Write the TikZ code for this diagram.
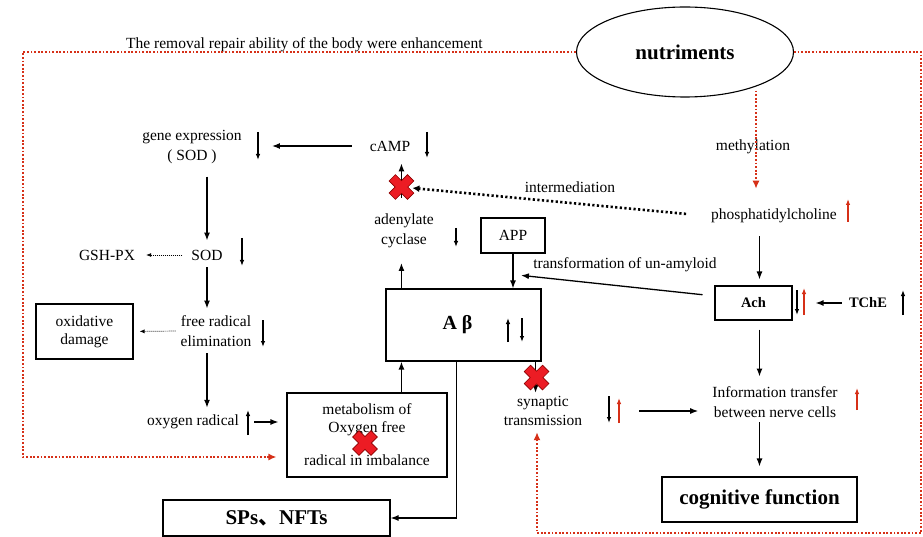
\documentclass[tikz,border=0pt]{standalone}
\usepackage{fontspec}
\setmainfont{Liberation Serif}
\newfontfamily\cjkfont{Noto Sans CJK SC}
\usetikzlibrary{arrows.meta,shapes.geometric,calc}
\definecolor{dotred}{RGB}{214,48,24}
\definecolor{xred}{RGB}{236,28,36}
\tikzset{
  xmark/.pic={
    \filldraw[fill=xred,draw=red!55!black,line width=0.6pt,rotate=45]
      (4.5,13) -- (4.5,4.5) -- (13,4.5) -- (13,-4.5) -- (4.5,-4.5) -- (4.5,-13)
      -- (-4.5,-13) -- (-4.5,-4.5) -- (-13,-4.5) -- (-13,4.5) -- (-4.5,4.5) -- (-4.5,13) -- cycle;
  }
}
\begin{document}
\begin{tikzpicture}[x=1pt,y=-1pt,
    txt/.style={font=\fontsize{15.5}{19.5}\selectfont,inner sep=3pt,align=center},
    box/.style={draw,line width=1.1pt,font=\fontsize{15.5}{18}\selectfont,inner sep=3pt,align=center},
    bigb/.style={font=\fontsize{21}{24}\selectfont\bfseries},
    smb/.style={font=\fontsize{14.5}{17}\selectfont\bfseries},
    arr/.style={-{Latex[length=8pt,width=6pt]},line width=1.3pt,shorten >=4pt,shorten <=4pt},
    ind/.style={-{Latex[length=6pt,width=4.5pt]},line width=1.2pt},
    redind/.style={draw=dotred,line width=1.1pt,-{Latex[length=6pt,width=4.5pt]}},
    reddot/.style={draw=dotred,line width=2.6pt,dash pattern=on 1.8pt off 1.8pt,-{Latex[length=8pt,width=7pt]}},
    interdot/.style={line width=2.6pt,dash pattern=on 2.2pt off 2.4pt,-{Latex[length=7pt,width=7pt]}},
    thindot/.style={line width=0.7pt,dash pattern=on 1pt off 1pt,-{Latex[length=5pt,width=4pt]}}]
  \useasboundingbox (0,0) rectangle (923,537);

  % nodes
  \node[txt,anchor=west] (title) at (123,45) {The removal repair ability of the body were enhancement};
  \node[draw,ellipse,line width=1.1pt,minimum width=217pt,minimum height=90pt,inner sep=0pt,bigb] (nut) at (685,52) {nutriments};
  \node[txt] (meth) at (753,147) {methylation};
  \node[txt] (pc) at (774,216) {phosphatidylcholine};
  \node[box,smb,minimum width=77pt,minimum height=34pt] (ach) at (753.5,303) {Ach};
  \node[smb] (tche) at (868,303) {TChE};
  \node[txt] (info) at (775,402) {Information transfer\\between nerve cells};
  \node[box,bigb,minimum width=195pt,minimum height=45pt] (cog) at (759.5,499.5) {cognitive function};
  \node[txt] (syn) at (543,411) {synaptic\\transmission};
  \node[box,minimum width=155pt,minimum height=72pt,font=\fontsize{20}{22}\selectfont\bfseries] (ab) at (463.5,325) {A β\hspace{12pt}};
  \node[box,minimum width=64pt,minimum height=35pt] (app) at (513,235.5) {APP};
  \node[txt] (ac) at (404,231) {adenylate\\cyclase};
  \node[txt] (camp) at (390,146) {cAMP};
  \node[txt] (inter) at (570,187) {intermediation};
  \node[txt] (trans) at (625,265) {transformation of un-amyloid};
  \node[txt] (gene) at (192,147) {gene expression\\( SOD )};
  \node[txt] (sod) at (207,255) {SOD};
  \node[txt] (gsh) at (107,255) {GSH-PX};
  \node[txt] (frad) at (216,331) {free radical\\elimination};
  \node[box,minimum width=97pt,minimum height=55pt] (oxd) at (84.5,331.5) {oxidative\\damage};
  \node[txt] (oxr) at (193,422) {oxygen radical};
  \node[box,minimum width=160pt,minimum height=84pt] (met) at (367,435) {metabolism of\\Oxygen free\\[15pt]radical in imbalance};
  \node[box,bigb,minimum width=227pt,minimum height=36pt] (sps) at (276.5,518) {SPs{\cjkfont 、}NFTs};

  \coordinate (abl) at ([xshift=16pt]ab.south west);
  \coordinate (abu) at ([xshift=16pt]ab.north west);
  \coordinate (abr) at ([xshift=-6pt]ab.south east);
  \coordinate (xc) at (abu |- inter);
  \coordinate (ta) at ($(app.south)!0.6!(app.south |- ab.north)$);
  \coordinate (mt) at ($(pc.north)+(-18,-17)$);
  \coordinate (lx) at (23,0);
  \coordinate (rb) at (921,533);

  % left column
  \draw[arr,shorten <=15pt,shorten >=27pt] (camp.west) -- (camp.west -| gene.east);
  \draw[arr,shorten <=10pt,shorten >=6pt] (gene.south -| sod) -- (sod.north);
  \draw[thindot,shorten <=6pt,shorten >=8pt] (sod.west) -- (gsh.east);
  \draw[arr] (sod.south) -- (sod.south |- frad.north);
  \draw[thindot,shorten <=2pt,shorten >=6pt] (frad.west) -- (oxd.east);
  \draw[arr] (frad.south -| sod) -- (oxr.north -| sod);
  \draw[arr,shorten <=12pt,shorten >=8pt] (oxr.east) -- (oxr.east -| met.west);

  % middle
  \draw[arr,shorten <=0pt,shorten >=0pt] (met.north -| abl) -- (abl);
  \draw[arr,shorten <=0pt,shorten >=12pt] (abu) -- (abu |- ac.south);
  \draw[arr,shorten <=13pt,shorten >=9pt] (ac.north -| abu) -- (camp.south -| abu);
  \draw[interdot,shorten <=22pt,shorten >=11pt] (pc.west) -- (xc);
  \draw[arr,shorten <=0pt,shorten >=0pt] (app.south) -- (app.south |- ab.north);
  \draw[arr,shorten <=12pt,shorten >=8pt] ([yshift=7pt]ach.west) -- (ta);
  \draw[arr,shorten <=0pt,shorten >=0pt] (abr) -- (abr |- syn.north);
  \draw[arr,shorten <=0pt,shorten >=0pt] ([xshift=-7pt]ab.south) |- (sps.east);

  % right column
  \draw[reddot] ($(mt |- nut.south)+(0,-7)$) -- (mt);
  \draw[arr,shorten <=10pt,shorten >=6pt] (pc.south -| cog.north) -- (ach.north -| cog.north);
  \draw[arr,shorten <=4pt,shorten >=23pt] (tche.west) -- (ach.east);
  \draw[arr,shorten <=9pt,shorten >=7pt] (ach.south -| cog.north) -- (info.north -| cog.north);
  \draw[arr,shorten <=54pt,shorten >=11pt] (syn.east) -- (syn.east -| info.west);
  \draw[arr,shorten <=2pt,shorten >=10pt] (info.south -| cog.north) -- (cog.north);

  % feedback loops
  \draw[reddot,shorten >=10pt] (nut.west) -- (nut.west -| lx) |- ([yshift=-22pt]met.west);
  \draw[reddot,shorten >=3pt] (nut.east) -- (nut.east -| rb) -- (rb) -| ([xshift=-6pt]syn.south);

  % up and down marks
  \foreach \x/\a/\b in {258/132/160, 427/132/158, 242/238/266, 263/320/347, 248/435/410, 456/228/247,
      508/342/318, 522/318/342, 797/290/315, 903/315/290, 609/396/423}
    \draw[ind] (\x,\a) -- (\x,\b);
  \foreach \x/\a/\b in {848/222/199, 804/315/288, 857/410/388, 619/423/398}
    \draw[redind] (\x,\a) -- (\x,\b);

  % blocked steps
  \pic at (xc) {xmark};
  \pic at ($(abr)+(1,16)$) {xmark};
  \pic at ($(met)+(-2,8)$) {xmark};
\end{tikzpicture}
\end{document}
